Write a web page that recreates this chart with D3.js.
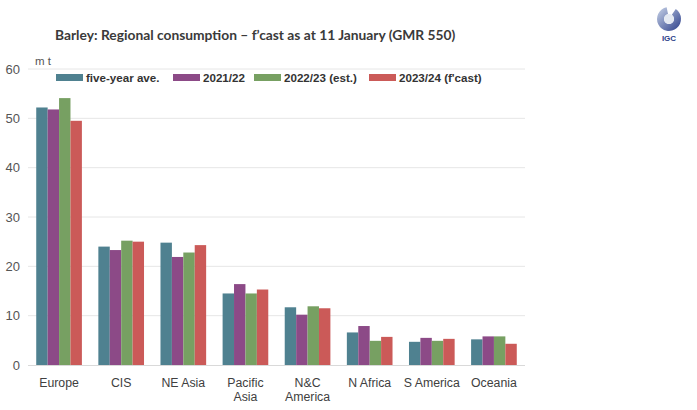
<!DOCTYPE html>
<html>
<head>
<meta charset="utf-8">
<script src="https://cdn.jsdelivr.net/npm/d3@7"></script>
<style>
  body { margin: 0; background: #ffffff; }
  svg text { font-family: "Liberation Sans", Arial, sans-serif; }
</style>
</head>
<body>
<script>
// regions + the four seasons (m t)
const regions = ["Europe", "CIS", "NE Asia", "Pacific Asia", "N&C America", "N Africa", "S America", "Oceania"];
const regionLines = [["Europe"], ["CIS"], ["NE Asia"], ["Pacific", "Asia"], ["N&C", "America"], ["N Africa"], ["S America"], ["Oceania"]];
const seriesNames = ["five-year ave.", "2021/22", "2022/23 (est.)", "2023/24 (f'cast)"];
const fiveYearAve = [52.2, 24.0, 24.8, 14.5, 11.7, 6.6, 4.7, 5.2];
const y2021 = [51.8, 23.3, 21.9, 16.4, 10.2, 7.9, 5.5, 5.8];
const y2022 = [54.1, 25.2, 22.8, 14.5, 11.9, 4.9, 4.9, 5.8];
const y2023 = [49.5, 25.0, 24.3, 15.3, 11.5, 5.7, 5.3, 4.3];
const yTicks = [0, 10, 20, 30, 40, 50, 60];

const colours = ["#4f8190", "#8c4a87", "#77a062", "#cb5a58"];
const allSeries = [fiveYearAve, y2021, y2022, y2023];

const W = 697, H = 410;
const svg = d3.select("body").append("svg")
    .attr("width", W)
    .attr("height", H);

//plot area
const plotL = 28, plotR = 525, plotT = 69, plotB = 365;

const x0 = d3.scaleBand()
    .domain(regions)
    .range([plotL, plotR])
    .paddingInner(0)
    .paddingOuter(0);

const x1 = d3.scaleBand()
    .domain(seriesNames)
    .range([0, x0.bandwidth() * 0.735]);

const groupOffset = (x0.bandwidth() - x1.range()[1]) / 2;

const y = d3.scaleLinear()
    .domain([0, 60])
    .range([plotB, plotT]);

// gridlines
svg.append("g")
    .selectAll("line")
    .data(yTicks.filter(d => d > 0))
    .join("line")
    .attr("x1", plotL)
    .attr("x2", plotR)
    .attr("y1", d => y(d))
    .attr("y2", d => y(d))
    .attr("stroke", "#e6e6e6")
    .attr("stroke-width", 1);

// y axis labels
const yAxis = svg.append("g")
    .attr("transform", `translate(${plotL - 8},0)`)
    .call(d3.axisLeft(y).tickValues(yTicks).tickSize(0).tickPadding(0));
yAxis.select(".domain").remove();
yAxis.selectAll("text")
    .attr("font-size", 13)
    .attr("fill", "#555555")
    .style("font-family", "Liberation Sans, Arial, sans-serif");

// bars
const rows = regions.map((r, i) => ({region: r, values: allSeries.map((s, k) => ({key: seriesNames[k], k: k, v: s[i]}))}));

svg.append("g")
    .selectAll("g")
    .data(rows)
    .join("g")
    .attr("transform", d => `translate(${x0(d.region) + groupOffset},0)`)
    .selectAll("rect")
    .data(d => d.values)
    .join("rect")
    .attr("x", d => x1(d.key))
    .attr("width", x1.bandwidth())
    .attr("y", d => y(d.v))
    .attr("height", d => y(0) - y(d.v))
    .attr("fill", d => colours[d.k]);

// baseline
svg.append("line")
    .attr("x1", plotL)
    .attr("x2", plotR)
    .attr("y1", y(0) + 0.5)
    .attr("y2", y(0) + 0.5)
    .attr("stroke", "#d9d9d9")
    .attr("stroke-width", 1.2);

// x labels
const xl = svg.append("g")
    .selectAll("text")
    .data(regions)
    .join("text")
    .attr("text-anchor", "middle")
    .attr("font-size", 12.3)
    .attr("fill", "#404040")
    .attr("x", d => x0(d) + x0.bandwidth() / 2)
    .attr("y", 387);
xl.selectAll("tspan")
    .data((d, i) => regionLines[i])
    .join("tspan")
    .attr("x", function() { return d3.select(this.parentNode).attr("x"); })
    .attr("dy", (d, i) => i == 0 ? 0 : 14)
    .text(d => d);

// unit
svg.append("text")
    .text("m t")
    .attr("x", 35)
    .attr("y", 65)
    .attr("font-size", 11.5)
    .attr("fill", "#555555");

// title
svg.append("text")
    .text("Barley: Regional consumption \u2013 f\u2019cast as at 11 January (GMR 550)")
    .attr("x", 55)
    .attr("y", 40)
    .attr("font-size", 13.8)
    .attr("font-weight", "bold")
    .attr("fill", "#3a3a3a")
    .style("font-family", "Lato, 'Open Sans', sans-serif");

// legend
const legendX = [56, 173, 254, 369];
const legend = svg.append("g")
    .selectAll("g")
    .data(seriesNames)
    .join("g")
    .attr("transform", (d, i) => `translate(${legendX[i]},74)`);
legend.append("rect")
    .attr("width", 27)
    .attr("height", 7)
    .attr("fill", (d, i) => colours[i]);
legend.append("text")
    .text(d => d)
    .attr("x", 30)
    .attr("y", 8)
    .attr("font-size", 11.6)
    .attr("font-weight", "bold")
    .attr("fill", "#333333");

// IGC logo
const logo = svg.append("g").attr("transform", "translate(669,19)");
const grad = svg.append("defs").append("linearGradient")
    .attr("id", "globe")
    .attr("x1", "0").attr("y1", "0").attr("x2", "1").attr("y2", "1");
grad.append("stop").attr("offset", "0").attr("stop-color", "#c8d3e8");
grad.append("stop").attr("offset", "1").attr("stop-color", "#2c3f8a");
logo.append("path")
    .attr("d", d3.arc()({innerRadius: 5, outerRadius: 12, startAngle: 0.6, endAngle: 2 * Math.PI - 0.2}))
    .attr("fill", "url(#globe)");
logo.append("circle")
    .attr("r", 5)
    .attr("fill", "#e4e9f2");
logo.append("text")
    .text("IGC")
    .attr("text-anchor", "middle")
    .attr("y", 22)
    .attr("font-size", 8)
    .attr("font-weight", "bold")
    .attr("fill", "#2c3f8a");
</script>
</body>
</html>
